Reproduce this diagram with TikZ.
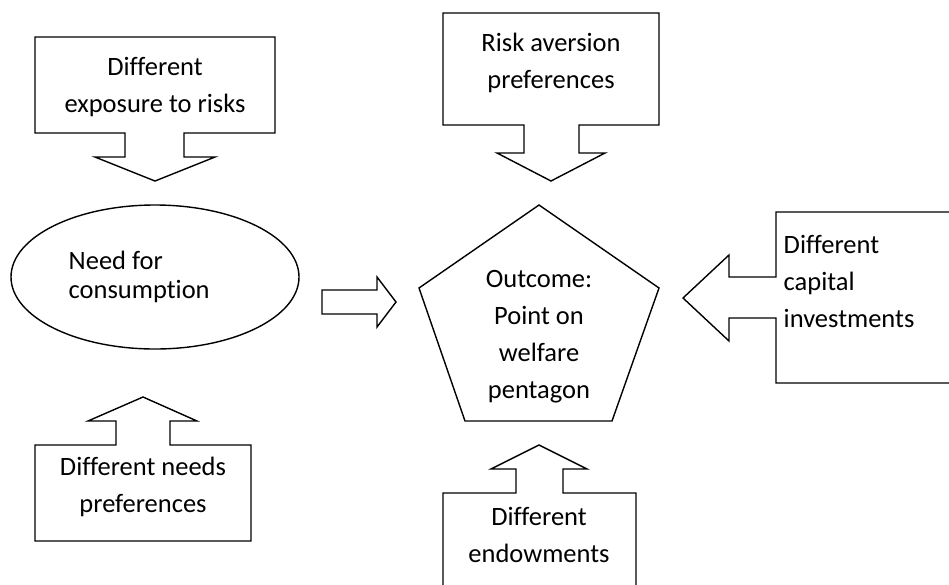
\documentclass[tikz,border=0pt]{standalone}
\usepackage{fontspec}
\setmainfont{Carlito}[Ligatures=NoCommon]
\usetikzlibrary{shapes.geometric, positioning}

\begin{document}
\begin{tikzpicture}[x=1pt, y=-1pt, line width=1.4pt, line join=miter,
    font=\fontsize{26.5}{37}\selectfont, align=center,
    lbl/.style={inner sep=0pt}]
    \useasboundingbox (0,0) rectangle (949,584);
    \clip (0,0) rectangle (949,584);
    \draw (35,37) -- (275,37) -- (275,133) -- (184,133) -- (184,157) -- (215,157) -- (155,181)
        -- (95,157) -- (125,157) -- (125,133) -- (35,133) -- cycle;
    \node[lbl] (risks) at (155,87) {Different\\exposure to risks};
    \draw (443,13) -- (659,13) -- (659,125) -- (579,125) -- (579,153) -- (605,153) -- (551,181)
        -- (497,153) -- (524,153) -- (524,125) -- (443,125) -- cycle;
    \node[lbl] (aversion) at (551,63) {Risk aversion\\preferences};
    \node[draw, ellipse, minimum width=288pt, minimum height=144pt, inner sep=0pt] (need) at (155,277) {};
    \node[lbl, anchor=west, align=left, font=\fontsize{26.5}{29}\selectfont] (needtxt) at (68,277) {Need for\\consumption};
    \draw (322,290) -- (377,290) -- (377,277) -- (396,302) -- (377,327) -- (377,314) -- (322,314) -- cycle;
    \draw (539,205) -- (659,288) -- (612,421) -- (465,421) -- (419,288) -- cycle;
    \node[lbl] (outcome) at (539,337) {Outcome:\\Point on\\welfare\\pentagon};
    \draw (960,212) -- (776,212) -- (776,277) -- (729,277) -- (729,255) -- (683,298) -- (729,341)
        -- (729,318) -- (776,318) -- (776,383) -- (960,383);
    \node[lbl, anchor=west, align=left] (capital) at (783,281) {Different\\capital\\investments};
    \draw (35,445) -- (116,445) -- (116,421) -- (88,421) -- (143,397) -- (197,421) -- (170,421)
        -- (170,445) -- (251,445) -- (251,541) -- (35,541) -- cycle;
    \node[lbl] (needs) at (143,487) {Different needs\\preferences};
    \draw (443,600) -- (443,493) -- (516,493) -- (516,469) -- (491,469) -- (539,445) -- (587,469)
        -- (563,469) -- (563,493) -- (636,493) -- (636,600);
    \node[lbl] (endow) at (539,535) {Different\\endowments};
\end{tikzpicture}
\end{document}
